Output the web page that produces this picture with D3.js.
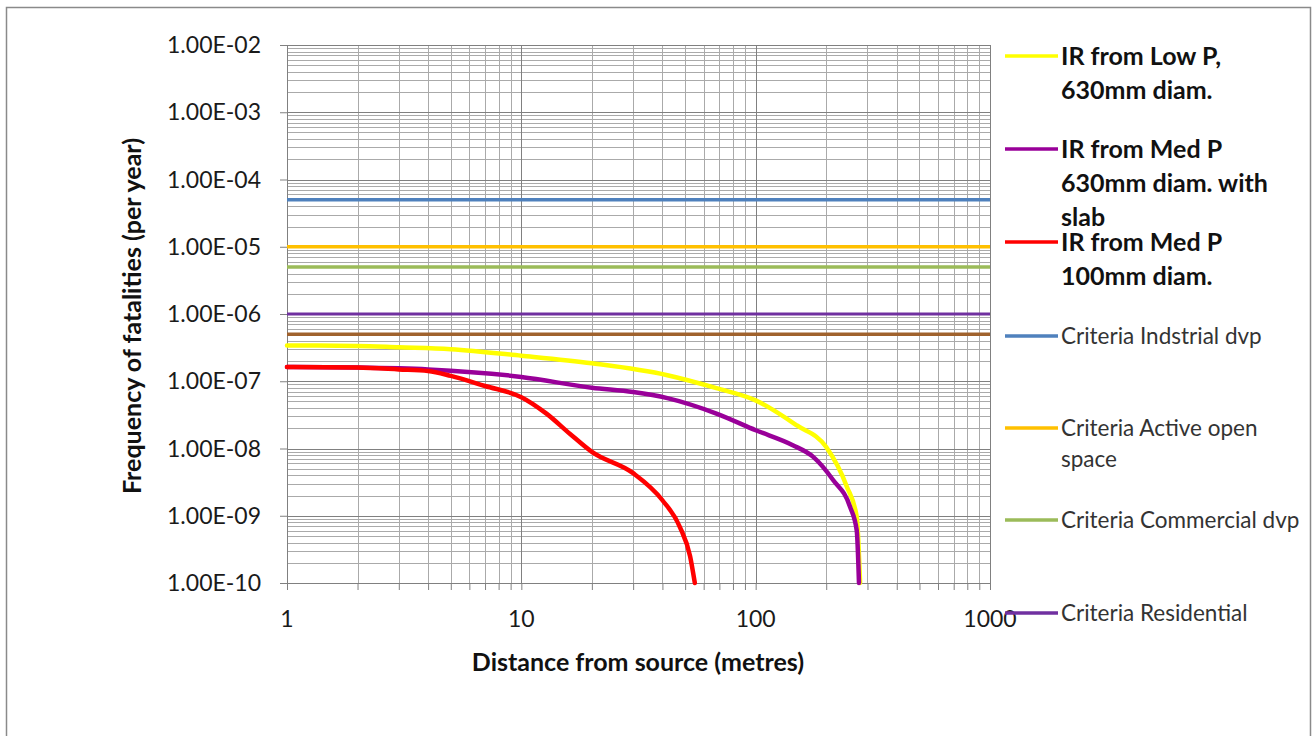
<!DOCTYPE html>
<html><head><meta charset="utf-8">
<script src="https://cdn.jsdelivr.net/npm/d3@7/dist/d3.min.js"></script>
<style>
html,body{margin:0;padding:0;background:#fff;}
svg{display:block;font-family:Lato, "Open Sans", sans-serif;}
</style></head>
<body>
<svg id="c" width="1312" height="736"></svg>
<script>
// ---- data ----
const xLowP = [1, 2, 3, 5, 10, 20, 42, 68, 100, 150, 200, 245, 270, 279];
const yLowP = [3.4e-7, 3.35e-7, 3.2e-7, 3.0e-7, 2.4e-7, 1.85e-7, 1.23e-7, 7.9e-8, 5.2e-8, 2.2e-8, 1.05e-8, 2.7e-9, 9.6e-10, 1e-10];

const xMedSlab = [1, 2, 4, 10, 20, 30, 42, 68, 100, 144, 176, 214, 253, 270, 276];
const yMedSlab = [1.63e-7, 1.6e-7, 1.5e-7, 1.16e-7, 8.0e-8, 6.9e-8, 5.6e-8, 3.3e-8, 1.87e-8, 1.12e-8, 7.5e-9, 3.4e-9, 1.35e-9, 6e-10, 1e-10];

const xMed100 = [1, 2, 3, 4, 5, 7, 10, 12.8, 16.1, 20, 30, 40, 47.5, 52.5, 55];
const yMed100 = [1.63e-7, 1.6e-7, 1.5e-7, 1.42e-7, 1.2e-7, 8.5e-8, 5.8e-8, 3.3e-8, 1.66e-8, 8.9e-9, 4.3e-9, 1.7e-9, 6.8e-10, 2.5e-10, 1e-10];

const criteriaNames = ["Criteria Indstrial dvp", "Criteria Active open space", "Criteria Commercial dvp", "Criteria Residential", ""];
const criteriaValues = [5e-5, 1e-5, 5e-6, 1e-6, 5e-7];
const criteriaColors = ["#4f81bd", "#ffc000", "#9bbb59", "#7030a0", "#a0622d"];

const curveNames = ["IR from Low P, 630mm diam.", "IR from Med P 630mm diam. with slab", "IR from Med P 100mm diam."];
const curveColors = ["#ffff00", "#990099", "#ff0000"];

const xTickValues = [1, 10, 100, 1000];
const xTickLabels = ["1", "10", "100", "1000"];
const yTickValues = [1e-2, 1e-3, 1e-4, 1e-5, 1e-6, 1e-7, 1e-8, 1e-9, 1e-10];
const yTickLabels = ["1.00E-02", "1.00E-03", "1.00E-04", "1.00E-05", "1.00E-06", "1.00E-07", "1.00E-08", "1.00E-09", "1.00E-10"];

// ---- layout ----
const svg = d3.select("#c");
const L = 287, R = 990, T = 45, B = 583;
const x = d3.scaleLog().domain([1, 1000]).range([L, R]);
const y = d3.scaleLog().domain([1e-10, 1e-2]).range([B, T]);

// outer frame
svg.append("rect").attr("x", 6.5).attr("y", 7.5).attr("width", 1304).attr("height", 740)
  .attr("fill", "#fff").attr("stroke", "#8a8a8a").attr("stroke-width", 1.5);

// minor values
const minorX = [];
for (let d = 1; d < 1000; d *= 10) for (let k = 2; k <= 9; k++) minorX.push(d * k);
const minorY = [];
for (let e = -10; e < -2; e++) for (let k = 2; k <= 9; k++) minorY.push(k * Math.pow(10, e));

const g = svg.append("g");
g.selectAll(".mnx").data(minorX).enter().append("line")
  .attr("x1", d => Math.round(x(d)) + 0.5).attr("x2", d => Math.round(x(d)) + 0.5)
  .attr("y1", T).attr("y2", B).attr("stroke", "#aaaaaa").attr("stroke-width", 1);
g.selectAll(".mny").data(minorY).enter().append("line")
  .attr("y1", d => Math.round(y(d)) + 0.5).attr("y2", d => Math.round(y(d)) + 0.5)
  .attr("x1", L).attr("x2", R).attr("stroke", "#aaaaaa").attr("stroke-width", 1);
g.selectAll(".mjx").data(xTickValues).enter().append("line")
  .attr("x1", d => Math.round(x(d)) + 0.5).attr("x2", d => Math.round(x(d)) + 0.5)
  .attr("y1", T).attr("y2", B).attr("stroke", "#808080").attr("stroke-width", 1);
g.selectAll(".mjy").data(yTickValues).enter().append("line")
  .attr("y1", d => Math.round(y(d)) + 0.5).attr("y2", d => Math.round(y(d)) + 0.5)
  .attr("x1", L).attr("x2", R).attr("stroke", "#808080").attr("stroke-width", 1);

// axes
const xAxis = d3.axisBottom(x).tickValues(minorX.concat(xTickValues)).tickSize(7).tickFormat("");
svg.append("g").attr("transform", `translate(0,${B})`).call(xAxis)
  .call(s => { s.selectAll("path,line").attr("stroke", "#808080"); });
const yAxis = d3.axisLeft(y).tickValues(yTickValues).tickSize(7).tickFormat("");
svg.append("g").attr("transform", `translate(${L},0)`).call(yAxis)
  .call(s => { s.selectAll("path,line").attr("stroke", "#808080"); });

// tick labels
svg.selectAll(".xt").data(xTickValues).enter().append("text")
  .attr("x", d => x(d)).attr("y", 627).attr("text-anchor", "middle")
  .attr("font-size", 23).attr("fill", "#1a1a1a").text((d, i) => xTickLabels[i]);
svg.selectAll(".yt").data(yTickValues).enter().append("text")
  .attr("x", 261).attr("y", d => y(d) + 8).attr("text-anchor", "end")
  .attr("font-size", 23).attr("fill", "#1a1a1a").text((d, i) => yTickLabels[i]);

// axis titles
svg.append("text").attr("x", 638).attr("y", 671).attr("text-anchor", "middle")
  .attr("font-size", 25).attr("font-weight", "bold").attr("fill", "#111")
  .text("Distance from source (metres)");
svg.append("text").attr("transform", "translate(141,316) rotate(-90)").attr("text-anchor", "middle")
  .attr("font-size", 25).attr("font-weight", "bold").attr("fill", "#111")
  .text("Frequency of fatalities (per year)");

// criteria lines
svg.selectAll(".crit").data(criteriaValues).enter().append("line")
  .attr("x1", x(1)).attr("x2", x(1000))
  .attr("y1", d => y(d)).attr("y2", d => y(d))
  .attr("stroke", (d, i) => criteriaColors[i]).attr("stroke-width", (d, i) => i === 3 ? 3 : 3.5);

// curves
const series = [[xLowP, yLowP], [xMedSlab, yMedSlab], [xMed100, yMed100]];
const line = d3.line().x(d => x(d[0])).y(d => y(d[1])).curve(d3.curveMonotoneX);
series.forEach((s, i) => {
  const pts = s[0].map((v, j) => [v, s[1][j]]);
  svg.append("path").attr("d", line(pts)).attr("fill", "none")
    .attr("stroke", curveColors[i]).attr("stroke-width", 4.5)
    .attr("stroke-linejoin", "round").attr("stroke-linecap", "round");
});

// legend
const legend = [
  {color: curveColors[0], y: 56, bold: true, lines: ["IR from Low P,", "630mm diam."]},
  {color: curveColors[1], y: 149, bold: true, lines: ["IR from Med P", "630mm diam. with", "slab"]},
  {color: curveColors[2], y: 242, bold: true, lines: ["IR from Med P", "100mm diam."]},
  {color: criteriaColors[0], y: 336, bold: false, lines: ["Criteria Indstrial dvp"]},
  {color: criteriaColors[1], y: 428, bold: false, lines: ["Criteria Active open", "space"]},
  {color: criteriaColors[2], y: 520, bold: false, lines: ["Criteria Commercial dvp"]},
  {color: criteriaColors[3], y: 613, bold: false, lines: ["Criteria Residential"]}
];
const lg = svg.append("g");
legend.forEach(e => {
  lg.append("line").attr("x1", 1005).attr("x2", 1058).attr("y1", e.y).attr("y2", e.y)
    .attr("stroke", e.color).attr("stroke-width", 3.5);
  const t = lg.append("text").attr("x", 1061).attr("y", e.y)
    .attr("font-size", e.bold ? 25 : 22.5).attr("font-weight", e.bold ? "bold" : "normal")
    .attr("fill", e.bold ? "#111" : "#333");
  e.lines.forEach((ln, k) => {
    t.append("tspan").attr("x", 1061).attr("dy", k === 0 ? (e.bold ? 9 : 8) : (e.bold ? 34 : 31)).text(ln);
  });
});
</script>
</body></html>
